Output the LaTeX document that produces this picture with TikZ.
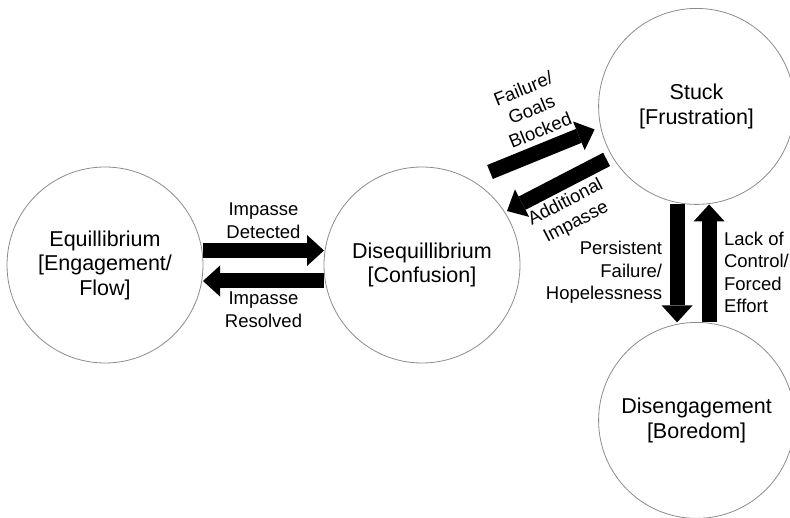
\documentclass[tikz,border=0pt]{standalone}
\usepackage{fontspec}
\setmainfont{Liberation Sans}
\usetikzlibrary{positioning,arrows.meta}

\begin{document}
\begin{tikzpicture}[
  x=1pt, y=1pt,
  state/.style={draw=black!45, line width=0.8pt, circle, outer sep=0pt, minimum size=196pt, align=center, font=\fontsize{21.5}{24.5}\selectfont},
  lbl/.style={font=\fontsize{18.5}{22.5}\selectfont, inner sep=0pt, outer sep=0pt, align=center},
  blk/.style={line width=15pt, -{Triangle[line width=0pt, length=17pt, width=31pt]}}
]
\useasboundingbox (0,0) rectangle (790,517);

% States (circles)
\node[state] (eq) at (105,252) {Equillibrium\\{}[Engagement/\\Flow]};
\node[state, right=121pt of eq] (dis) {Disequillibrium\\{}[Confusion]};
\node[state, above right=20pt and 136pt of dis] (stuck) {Stuck\\{}[Frustration]};
\node[state, below=118pt of stuck] (bored) {Disengagement\\{}[Boredom]};

% Equilibrium <-> disequilibrium
\draw[blk] ([yshift=14.5pt]eq.east) -- node[lbl, above=12pt] {Impasse\\Detected} ([yshift=14.5pt]dis.west);
\draw[blk] ([yshift=-16pt]dis.west) -- node[lbl, below=11pt] {Impasse\\Resolved} ([yshift=-16pt]eq.east);

% Disequilibrium <-> stuck
\draw[blk] ([shift={(68,93)}]dis.center) -- node[lbl, sloped, pos=0.55, above=13pt] {Failure/\\Goals\\Blocked} ([shift={(-102,-23)}]stuck.center);
\draw[blk] ([shift={(-90,-53)}]stuck.center) -- node[lbl, sloped, below=11pt] {Additional\\Impasse} ([shift={(85,54)}]dis.center);

% Stuck <-> disengagement
\draw[blk] ([xshift=-19.5pt]stuck.south) -- node[lbl, left=15pt, yshift=-9pt, align=right] {Persistent\\Failure/\\Hopelessness} ([xshift=-19.5pt]bored.north);
\draw[blk] ([xshift=12.5pt]bored.north) -- node[lbl, right=15pt, yshift=-9pt, align=left] {Lack of\\Control/\\Forced\\Effort} ([xshift=12.5pt]stuck.south);

\end{tikzpicture}
\end{document}
